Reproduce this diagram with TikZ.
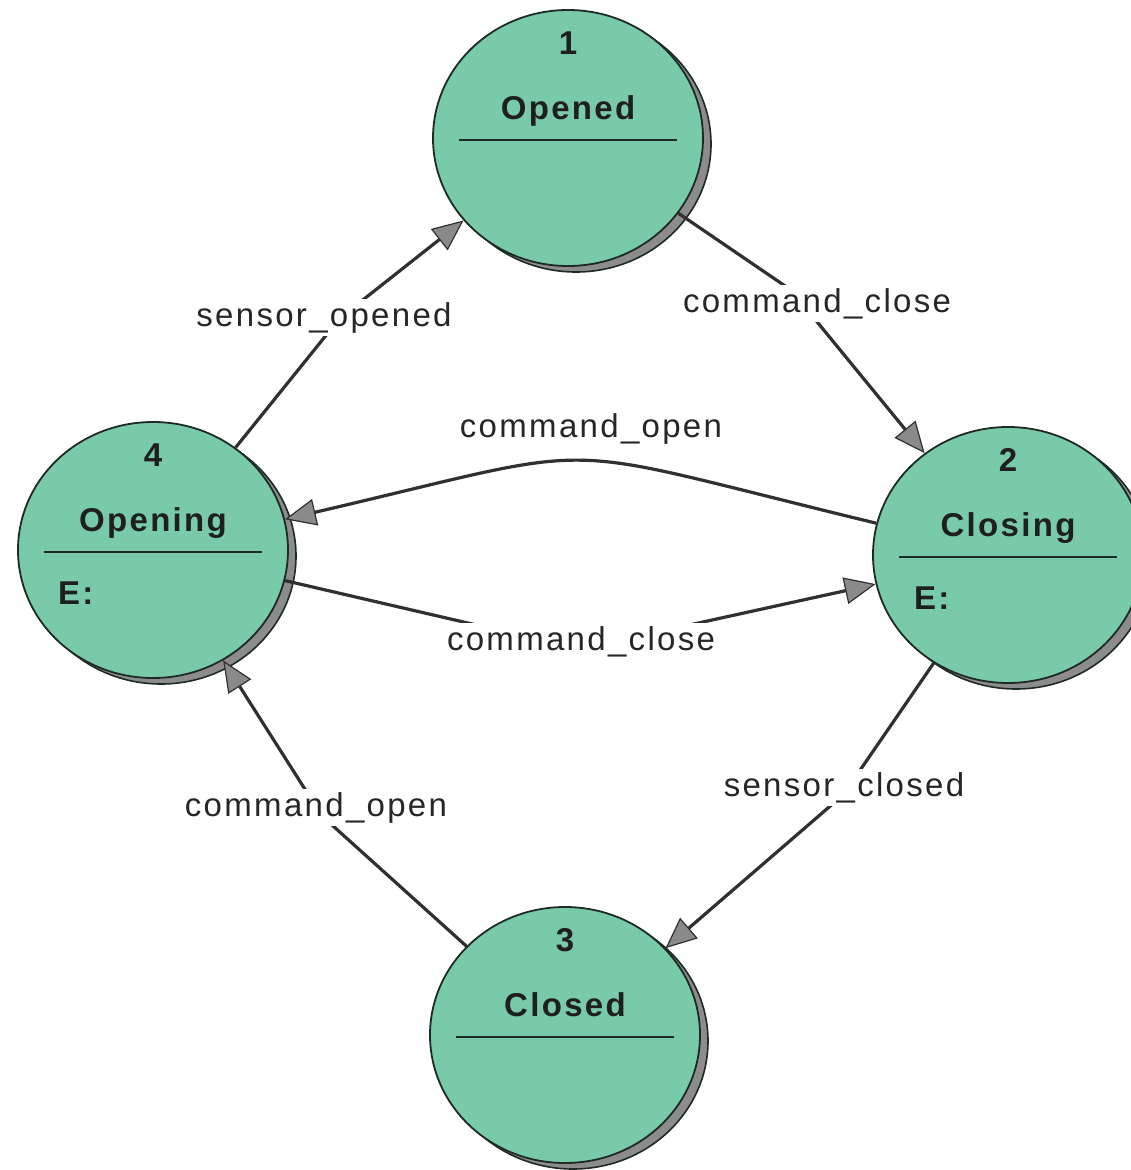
\documentclass[tikz,border=0pt]{standalone}
\usepackage{fontspec}
\setmainfont{Liberation Sans}
\newfontfamily\lblfont{Liberation Sans}[LetterSpace=7]
\newfontfamily\stfont{Liberation Sans}[LetterSpace=7]
\usetikzlibrary{shapes.geometric, arrows.meta, calc}
\definecolor{stfill}{HTML}{78CAA9}
\definecolor{stline}{HTML}{1E2A24}
\definecolor{edgecol}{HTML}{303030}
\definecolor{tipfill}{HTML}{8A8A8A}
\definecolor{shadowcol}{HTML}{8C8C8C}
\begin{document}
\begin{tikzpicture}[x=1pt,y=-1pt,
  state/.style={ellipse, minimum width=270pt, minimum height=256pt, inner sep=0pt,
    fill=stfill, draw=stline, line width=1.8pt},
  stshadow/.style={ellipse, minimum width=270pt, minimum height=256pt, inner sep=0pt,
    fill=shadowcol, draw=stline, line width=1.6pt},
  sttext/.style={font=\stfont\bfseries\fontsize{33}{38}\selectfont, text=black!88,
    inner sep=0pt, anchor=base},
  divider/.style={line width=1.8pt, draw=stline},
  trans/.style={draw=edgecol, line width=3.2pt,
    -{Triangle[length=31pt,width=27pt,fill=tipfill,line width=1.2pt]}},
  lbl/.style={fill=white, inner sep=3pt, anchor=base,
    font=\lblfont\fontsize{33}{38}\selectfont, text=black!85},
]
\useasboundingbox (0,0) rectangle (1131,1170);

% drop shadows of the states
\node[stshadow] (sh1) at (576,144) {};
\node[stshadow] (sh2) at (1016,561) {};
\node[stshadow] (sh3) at (573,1041) {};
\node[stshadow] (sh4) at (161,556) {};

% states
\node[state] (s1) at (568,138) {};
\node[state] (s2) at (1008,555) {};
\node[state] (s3) at (565,1035) {};
\node[state] (s4) at (153,550) {};

% state numbers, names, dividers and entry actions
\node[sttext] (n1) at ($(s1)+(0,-84)$) {1};
\node[sttext] (t1) at ($(s1)+(0,-19)$) {Opened};
\draw[divider] ($(s1)+(-109,2)$) -- ($(s1)+(109,2)$);

\node[sttext] (n2) at ($(s2)+(0,-84)$) {2};
\node[sttext] (t2) at ($(s2)+(0,-19)$) {Closing};
\draw[divider] ($(s2)+(-109,2)$) -- ($(s2)+(109,2)$);
\node[sttext, anchor=base west] (e2) at ($(s2)+(-94,54)$) {E:};

\node[sttext] (n3) at ($(s3)+(0,-84)$) {3};
\node[sttext] (t3) at ($(s3)+(0,-19)$) {Closed};
\draw[divider] ($(s3)+(-109,2)$) -- ($(s3)+(109,2)$);

\node[sttext] (n4) at ($(s4)+(0,-84)$) {4};
\node[sttext] (t4) at ($(s4)+(0,-19)$) {Opening};
\draw[divider] ($(s4)+(-109,2)$) -- ($(s4)+(109,2)$);
\node[sttext, anchor=base west] (e4) at ($(s4)+(-95,54)$) {E:};

% bend points of the transitions
\coordinate (b41) at (340,318);
\coordinate (b12) at (791,290);
\coordinate (b42) at (580,649);
\coordinate (b23) at (843,795);
\coordinate (b34) at (322,816);

% transitions
\draw[trans] (s4) -- (b41) -- (s1);
\draw[trans] (s1) -- (b12) -- (s2);
\draw[trans] (s2) .. controls (536,441) and (621,441) .. (s4);
\draw[trans] (s4) -- (b42) -- (s2);
\draw[trans] (s2) -- (b23) -- (s3);
\draw[trans] (s3) -- (b34) -- (s4);

% transition labels
\node[lbl] (l41) at (324,326) {sensor\_opened};
\node[lbl] (l12) at (817,312) {command\_close};
\node[lbl] (l24) at (591,437) {command\_open};
\node[lbl] (l42) at (581,650) {command\_close};
\node[lbl] (l23) at (844,796) {sensor\_closed};
\node[lbl] (l34) at (316,816) {command\_open};
\end{tikzpicture}
\end{document}
